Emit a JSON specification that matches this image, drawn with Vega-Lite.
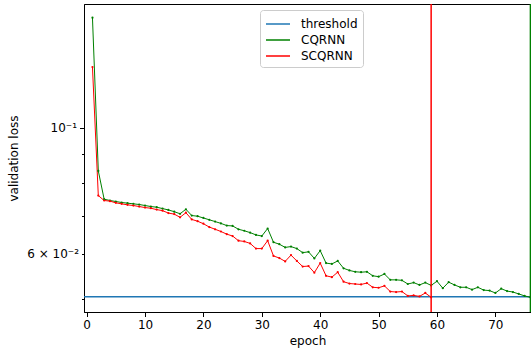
{
  "$schema": "https://vega.github.io/schema/vega-lite/v6.json",
  "width": 447,
  "height": 308,
  "autosize": {"type": "none"},
  "padding": {"left": 84, "top": 4, "right": 0, "bottom": 37},
  "config": {
    "font": "DejaVu Sans",
    "view": {"stroke": "#000000", "strokeWidth": 1},
    "axis": {
      "grid": false,
      "domainColor": "#000000",
      "tickColor": "#000000",
      "labelColor": "#000000",
      "titleColor": "#000000",
      "labelFontSize": 12,
      "titleFontSize": 12,
      "titleFontWeight": "normal",
      "labelFont": "DejaVu Sans",
      "titleFont": "DejaVu Sans"
    }
  },
  "datasets": {
    "losses": [
      {"epoch": 1, "series": "CQRNN", "loss": 0.1564},
      {"epoch": 2, "series": "CQRNN", "loss": 0.084},
      {"epoch": 3, "series": "CQRNN", "loss": 0.0749},
      {"epoch": 4, "series": "CQRNN", "loss": 0.0745},
      {"epoch": 5, "series": "CQRNN", "loss": 0.0742},
      {"epoch": 6, "series": "CQRNN", "loss": 0.0739},
      {"epoch": 7, "series": "CQRNN", "loss": 0.0737},
      {"epoch": 8, "series": "CQRNN", "loss": 0.0735},
      {"epoch": 9, "series": "CQRNN", "loss": 0.0733},
      {"epoch": 10, "series": "CQRNN", "loss": 0.073},
      {"epoch": 11, "series": "CQRNN", "loss": 0.0727},
      {"epoch": 12, "series": "CQRNN", "loss": 0.0725},
      {"epoch": 13, "series": "CQRNN", "loss": 0.0721},
      {"epoch": 14, "series": "CQRNN", "loss": 0.0717},
      {"epoch": 15, "series": "CQRNN", "loss": 0.0712},
      {"epoch": 16, "series": "CQRNN", "loss": 0.0706},
      {"epoch": 17, "series": "CQRNN", "loss": 0.0719},
      {"epoch": 18, "series": "CQRNN", "loss": 0.0701},
      {"epoch": 19, "series": "CQRNN", "loss": 0.0699},
      {"epoch": 20, "series": "CQRNN", "loss": 0.0694},
      {"epoch": 21, "series": "CQRNN", "loss": 0.0689},
      {"epoch": 22, "series": "CQRNN", "loss": 0.0684},
      {"epoch": 23, "series": "CQRNN", "loss": 0.0679},
      {"epoch": 24, "series": "CQRNN", "loss": 0.0673},
      {"epoch": 25, "series": "CQRNN", "loss": 0.0672},
      {"epoch": 26, "series": "CQRNN", "loss": 0.0663},
      {"epoch": 27, "series": "CQRNN", "loss": 0.0659},
      {"epoch": 28, "series": "CQRNN", "loss": 0.0654},
      {"epoch": 29, "series": "CQRNN", "loss": 0.0648},
      {"epoch": 30, "series": "CQRNN", "loss": 0.0645},
      {"epoch": 31, "series": "CQRNN", "loss": 0.0665},
      {"epoch": 32, "series": "CQRNN", "loss": 0.0629},
      {"epoch": 33, "series": "CQRNN", "loss": 0.0624},
      {"epoch": 34, "series": "CQRNN", "loss": 0.0616},
      {"epoch": 35, "series": "CQRNN", "loss": 0.0618},
      {"epoch": 36, "series": "CQRNN", "loss": 0.0613},
      {"epoch": 37, "series": "CQRNN", "loss": 0.0603},
      {"epoch": 38, "series": "CQRNN", "loss": 0.0605},
      {"epoch": 39, "series": "CQRNN", "loss": 0.0589},
      {"epoch": 40, "series": "CQRNN", "loss": 0.0608},
      {"epoch": 41, "series": "CQRNN", "loss": 0.0578},
      {"epoch": 42, "series": "CQRNN", "loss": 0.0576},
      {"epoch": 43, "series": "CQRNN", "loss": 0.0583},
      {"epoch": 44, "series": "CQRNN", "loss": 0.0566},
      {"epoch": 45, "series": "CQRNN", "loss": 0.0561},
      {"epoch": 46, "series": "CQRNN", "loss": 0.0558},
      {"epoch": 47, "series": "CQRNN", "loss": 0.0557},
      {"epoch": 48, "series": "CQRNN", "loss": 0.0558},
      {"epoch": 49, "series": "CQRNN", "loss": 0.0549},
      {"epoch": 50, "series": "CQRNN", "loss": 0.0547},
      {"epoch": 51, "series": "CQRNN", "loss": 0.0553},
      {"epoch": 52, "series": "CQRNN", "loss": 0.054},
      {"epoch": 53, "series": "CQRNN", "loss": 0.054},
      {"epoch": 54, "series": "CQRNN", "loss": 0.0539},
      {"epoch": 55, "series": "CQRNN", "loss": 0.0531},
      {"epoch": 56, "series": "CQRNN", "loss": 0.0534},
      {"epoch": 57, "series": "CQRNN", "loss": 0.0529},
      {"epoch": 58, "series": "CQRNN", "loss": 0.0534},
      {"epoch": 59, "series": "CQRNN", "loss": 0.0528},
      {"epoch": 60, "series": "CQRNN", "loss": 0.0537},
      {"epoch": 61, "series": "CQRNN", "loss": 0.0522},
      {"epoch": 62, "series": "CQRNN", "loss": 0.0535},
      {"epoch": 63, "series": "CQRNN", "loss": 0.0529},
      {"epoch": 64, "series": "CQRNN", "loss": 0.0524},
      {"epoch": 65, "series": "CQRNN", "loss": 0.0524},
      {"epoch": 66, "series": "CQRNN", "loss": 0.0519},
      {"epoch": 67, "series": "CQRNN", "loss": 0.0524},
      {"epoch": 68, "series": "CQRNN", "loss": 0.0518},
      {"epoch": 69, "series": "CQRNN", "loss": 0.0517},
      {"epoch": 70, "series": "CQRNN", "loss": 0.0512},
      {"epoch": 71, "series": "CQRNN", "loss": 0.0521},
      {"epoch": 72, "series": "CQRNN", "loss": 0.0516},
      {"epoch": 73, "series": "CQRNN", "loss": 0.0514},
      {"epoch": 74, "series": "CQRNN", "loss": 0.051},
      {"epoch": 75, "series": "CQRNN", "loss": 0.0506},
      {"epoch": 76, "series": "CQRNN", "loss": 0.0503},
      {"epoch": 1, "series": "SCQRNN", "loss": 0.128},
      {"epoch": 2, "series": "SCQRNN", "loss": 0.076},
      {"epoch": 3, "series": "SCQRNN", "loss": 0.0745},
      {"epoch": 4, "series": "SCQRNN", "loss": 0.0743},
      {"epoch": 5, "series": "SCQRNN", "loss": 0.0738},
      {"epoch": 6, "series": "SCQRNN", "loss": 0.0735},
      {"epoch": 7, "series": "SCQRNN", "loss": 0.0732},
      {"epoch": 8, "series": "SCQRNN", "loss": 0.073},
      {"epoch": 9, "series": "SCQRNN", "loss": 0.0727},
      {"epoch": 10, "series": "SCQRNN", "loss": 0.0724},
      {"epoch": 11, "series": "SCQRNN", "loss": 0.0722},
      {"epoch": 12, "series": "SCQRNN", "loss": 0.0718},
      {"epoch": 13, "series": "SCQRNN", "loss": 0.0715},
      {"epoch": 14, "series": "SCQRNN", "loss": 0.0708},
      {"epoch": 15, "series": "SCQRNN", "loss": 0.0705},
      {"epoch": 16, "series": "SCQRNN", "loss": 0.0696},
      {"epoch": 17, "series": "SCQRNN", "loss": 0.0709},
      {"epoch": 18, "series": "SCQRNN", "loss": 0.069},
      {"epoch": 19, "series": "SCQRNN", "loss": 0.0685},
      {"epoch": 20, "series": "SCQRNN", "loss": 0.0678},
      {"epoch": 21, "series": "SCQRNN", "loss": 0.0669},
      {"epoch": 22, "series": "SCQRNN", "loss": 0.0663},
      {"epoch": 23, "series": "SCQRNN", "loss": 0.0657},
      {"epoch": 24, "series": "SCQRNN", "loss": 0.065},
      {"epoch": 25, "series": "SCQRNN", "loss": 0.0645},
      {"epoch": 26, "series": "SCQRNN", "loss": 0.0633},
      {"epoch": 27, "series": "SCQRNN", "loss": 0.0631},
      {"epoch": 28, "series": "SCQRNN", "loss": 0.0626},
      {"epoch": 29, "series": "SCQRNN", "loss": 0.0613},
      {"epoch": 30, "series": "SCQRNN", "loss": 0.0613},
      {"epoch": 31, "series": "SCQRNN", "loss": 0.0633},
      {"epoch": 32, "series": "SCQRNN", "loss": 0.0595},
      {"epoch": 33, "series": "SCQRNN", "loss": 0.059},
      {"epoch": 34, "series": "SCQRNN", "loss": 0.0582},
      {"epoch": 35, "series": "SCQRNN", "loss": 0.0597},
      {"epoch": 36, "series": "SCQRNN", "loss": 0.0583},
      {"epoch": 37, "series": "SCQRNN", "loss": 0.057},
      {"epoch": 38, "series": "SCQRNN", "loss": 0.0571},
      {"epoch": 39, "series": "SCQRNN", "loss": 0.0556},
      {"epoch": 40, "series": "SCQRNN", "loss": 0.0578},
      {"epoch": 41, "series": "SCQRNN", "loss": 0.0549},
      {"epoch": 42, "series": "SCQRNN", "loss": 0.0546},
      {"epoch": 43, "series": "SCQRNN", "loss": 0.0557},
      {"epoch": 44, "series": "SCQRNN", "loss": 0.0536},
      {"epoch": 45, "series": "SCQRNN", "loss": 0.0532},
      {"epoch": 46, "series": "SCQRNN", "loss": 0.0531},
      {"epoch": 47, "series": "SCQRNN", "loss": 0.053},
      {"epoch": 48, "series": "SCQRNN", "loss": 0.0533},
      {"epoch": 49, "series": "SCQRNN", "loss": 0.0524},
      {"epoch": 50, "series": "SCQRNN", "loss": 0.0523},
      {"epoch": 51, "series": "SCQRNN", "loss": 0.0527},
      {"epoch": 52, "series": "SCQRNN", "loss": 0.0515},
      {"epoch": 53, "series": "SCQRNN", "loss": 0.0514},
      {"epoch": 54, "series": "SCQRNN", "loss": 0.0515},
      {"epoch": 55, "series": "SCQRNN", "loss": 0.0506},
      {"epoch": 56, "series": "SCQRNN", "loss": 0.0507},
      {"epoch": 57, "series": "SCQRNN", "loss": 0.0505},
      {"epoch": 58, "series": "SCQRNN", "loss": 0.0512},
      {"epoch": 59, "series": "SCQRNN", "loss": 0.0503}
    ],
    "threshold": [{"series": "threshold", "loss": 0.0504}],
    "stops": [
      {"series": "SCQRNN", "epoch": 59},
      {"series": "CQRNN", "epoch": 76}
    ]
  },
  "layer": [
    {
      "data": {"name": "threshold"},
      "mark": {"type": "rule", "strokeWidth": 1.5},
      "encoding": {
        "y": {
          "field": "loss",
          "type": "quantitative",
          "scale": {"type": "log", "domain": [0.0474, 0.1653], "nice": false, "zero": false},
          "axis": {
            "title": "validation loss",
            "values": [0.05, 0.06, 0.07, 0.08, 0.09, 0.1],
            "labelExpr": "datum.value > 0.099 ? '10⁻¹' : (abs(datum.value - 0.06) < 0.0001 ? '6 × 10⁻²' : '')",
            "labelOverlap": false,
            "labelFlush": false,
            "tickSize": {"condition": {"test": "datum.value > 0.099", "value": 4.5}, "value": 2.5},
            "labelPadding": 3,
            "titlePadding": 6
          }
        },
        "color": {
          "field": "series",
          "type": "nominal",
          "scale": {"domain": ["threshold", "CQRNN", "SCQRNN"], "range": ["#1f77b4", "#008000", "#ff0000"]},
          "legend": {
            "title": null,
            "orient": "none",
            "legendX": 176,
            "legendY": 6,
            "symbolType": "M-1,0H2",
            "symbolSize": 256,
            "symbolStrokeWidth": 1.5,
            "symbolFillColor": "transparent",
            "labelFontSize": 12,
            "labelFont": "DejaVu Sans",
            "labelOffset": 18,
            "rowPadding": 1,
            "padding": 5,
            "strokeColor": "#cccccc",
            "fillColor": "rgba(255,255,255,0.8)",
            "cornerRadius": 3
          }
        }
      }
    },
    {
      "data": {"name": "losses"},
      "mark": {"type": "line", "strokeWidth": 1},
      "encoding": {
        "x": {
          "field": "epoch",
          "type": "quantitative",
          "scale": {"domain": [-0.45, 76.1], "nice": false, "zero": false},
          "axis": {"title": "epoch", "values": [0, 10, 20, 30, 40, 50, 60, 70], "tickSize": 4.5, "labelPadding": 3, "titlePadding": 5, "labelFlush": false}
        },
        "y": {"field": "loss", "type": "quantitative"},
        "color": {"field": "series", "type": "nominal"}
      }
    },
    {
      "data": {"name": "losses"},
      "mark": {"type": "point", "filled": true, "size": 5, "opacity": 1},
      "encoding": {
        "x": {"field": "epoch", "type": "quantitative"},
        "y": {"field": "loss", "type": "quantitative"},
        "color": {"field": "series", "type": "nominal"}
      }
    },
    {
      "data": {"name": "stops"},
      "mark": {"type": "rule", "strokeWidth": 1.5},
      "encoding": {
        "x": {"field": "epoch", "type": "quantitative"},
        "color": {"field": "series", "type": "nominal"}
      }
    }
  ]
}
